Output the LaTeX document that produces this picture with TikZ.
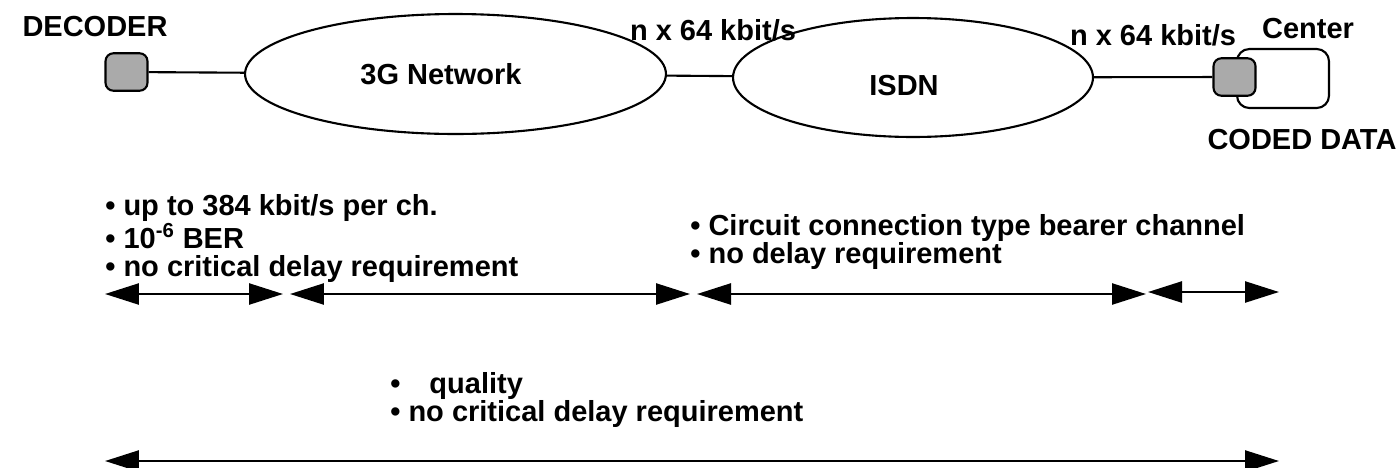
\documentclass[tikz,border=0pt]{standalone}
\usepackage{fontspec}
\setmainfont{Liberation Sans}
\usetikzlibrary{shapes.geometric,arrows.meta}
\definecolor{termgray}{RGB}{170,170,170}

\begin{document}
\begin{tikzpicture}[x=0.02cm, y=-0.02cm,
    base/.style = {font=\bfseries\fontsize{16.5}{16}\selectfont, inner sep=0pt},
    net/.style = {ellipse, draw=black, line width=1.2pt, inner sep=0pt},
    term/.style = {rectangle, rounded corners=4.5pt, draw=black, line width=1.2pt,
fill=termgray, minimum width=0.84cm, minimum height=0.75cm},
    site/.style = {term, fill=white, rounded corners=7pt,
minimum width=1.84cm, minimum height=1.18cm},
    link/.style = {line width=1.2pt},
    span/.style = {{Triangle[length=0.68cm,width=0.42cm]}-{Triangle[length=0.68cm,width=0.42cm]},
line width=1.4pt},
    every node/.style={base}, align=left
]
  \useasboundingbox (0,0) rectangle (1399,467);

  % top row: decoder -- 3G -- ISDN -- center
  \node (dec)    [term] at (126.5,72) {};
  \node (g3)     [net, minimum width=8.42cm, minimum height=2.4cm] at (455.5,74) {};
  \node (isdn)   [net, minimum width=7.2cm, minimum height=2.38cm] at (913,77.5) {};
  \node (site)   [site] at (1283,78.5) {};
  \node (enc)    [term] at (1234.5,77) {};

  \node (g3txt)   at (441,74) {3G Network};
  \node (isdntxt) at (904,86) {ISDN};
  \node (dectxt)  at (95,27) {DECODER};
  \node (rate1)   at (713,30) {n x 64 kbit/s};
  \node (rate2)   at (1153,35) {n x 64 kbit/s};
  \node (sitetxt) at (1308,29) {Center};
  \node (datatxt) at (1302,140) {CODED DATA};

  \draw[link] (dec) -- (g3);
  \draw[link] (g3) -- (isdn);
  \draw[link] (isdn) -- (enc);

  % requirements per section
  \node (req3g)   [anchor=north west] at (105,194)
    {\textbullet\ up to 384 kbit/s per ch.\\\textbullet\ 10\textsuperscript{-6} BER\\\textbullet\ no critical delay requirement};
  \node (reqisdn) [anchor=north west] at (690,214)
    {\textbullet\ Circuit connection type bearer channel\\\textbullet\ no delay requirement};
  \node (reqall)  [anchor=north west] at (390,372)
    {\textbullet\hspace{1em}quality\\\textbullet\ no critical delay requirement};

  \coordinate (s0) at (105,294);
  \coordinate (s1) at (283,294);
  \coordinate (s2) at (290,294);
  \coordinate (s3) at (690,294);
  \coordinate (s4) at (697,294);
  \coordinate (s5) at (1146,294);
  \coordinate (s6) at (1148,292);
  \coordinate (s7) at (1279,292);
  \coordinate (t0) at (105,461);
  \coordinate (t1) at (1279,461);

  \draw[span] (s0) -- (s1);
  \draw[span] (s2) -- (s3);
  \draw[span] (s4) -- (s5);
  \draw[span] (s6) -- (s7);
  \draw[span] (t0) -- (t1);

\end{tikzpicture}
\end{document}
